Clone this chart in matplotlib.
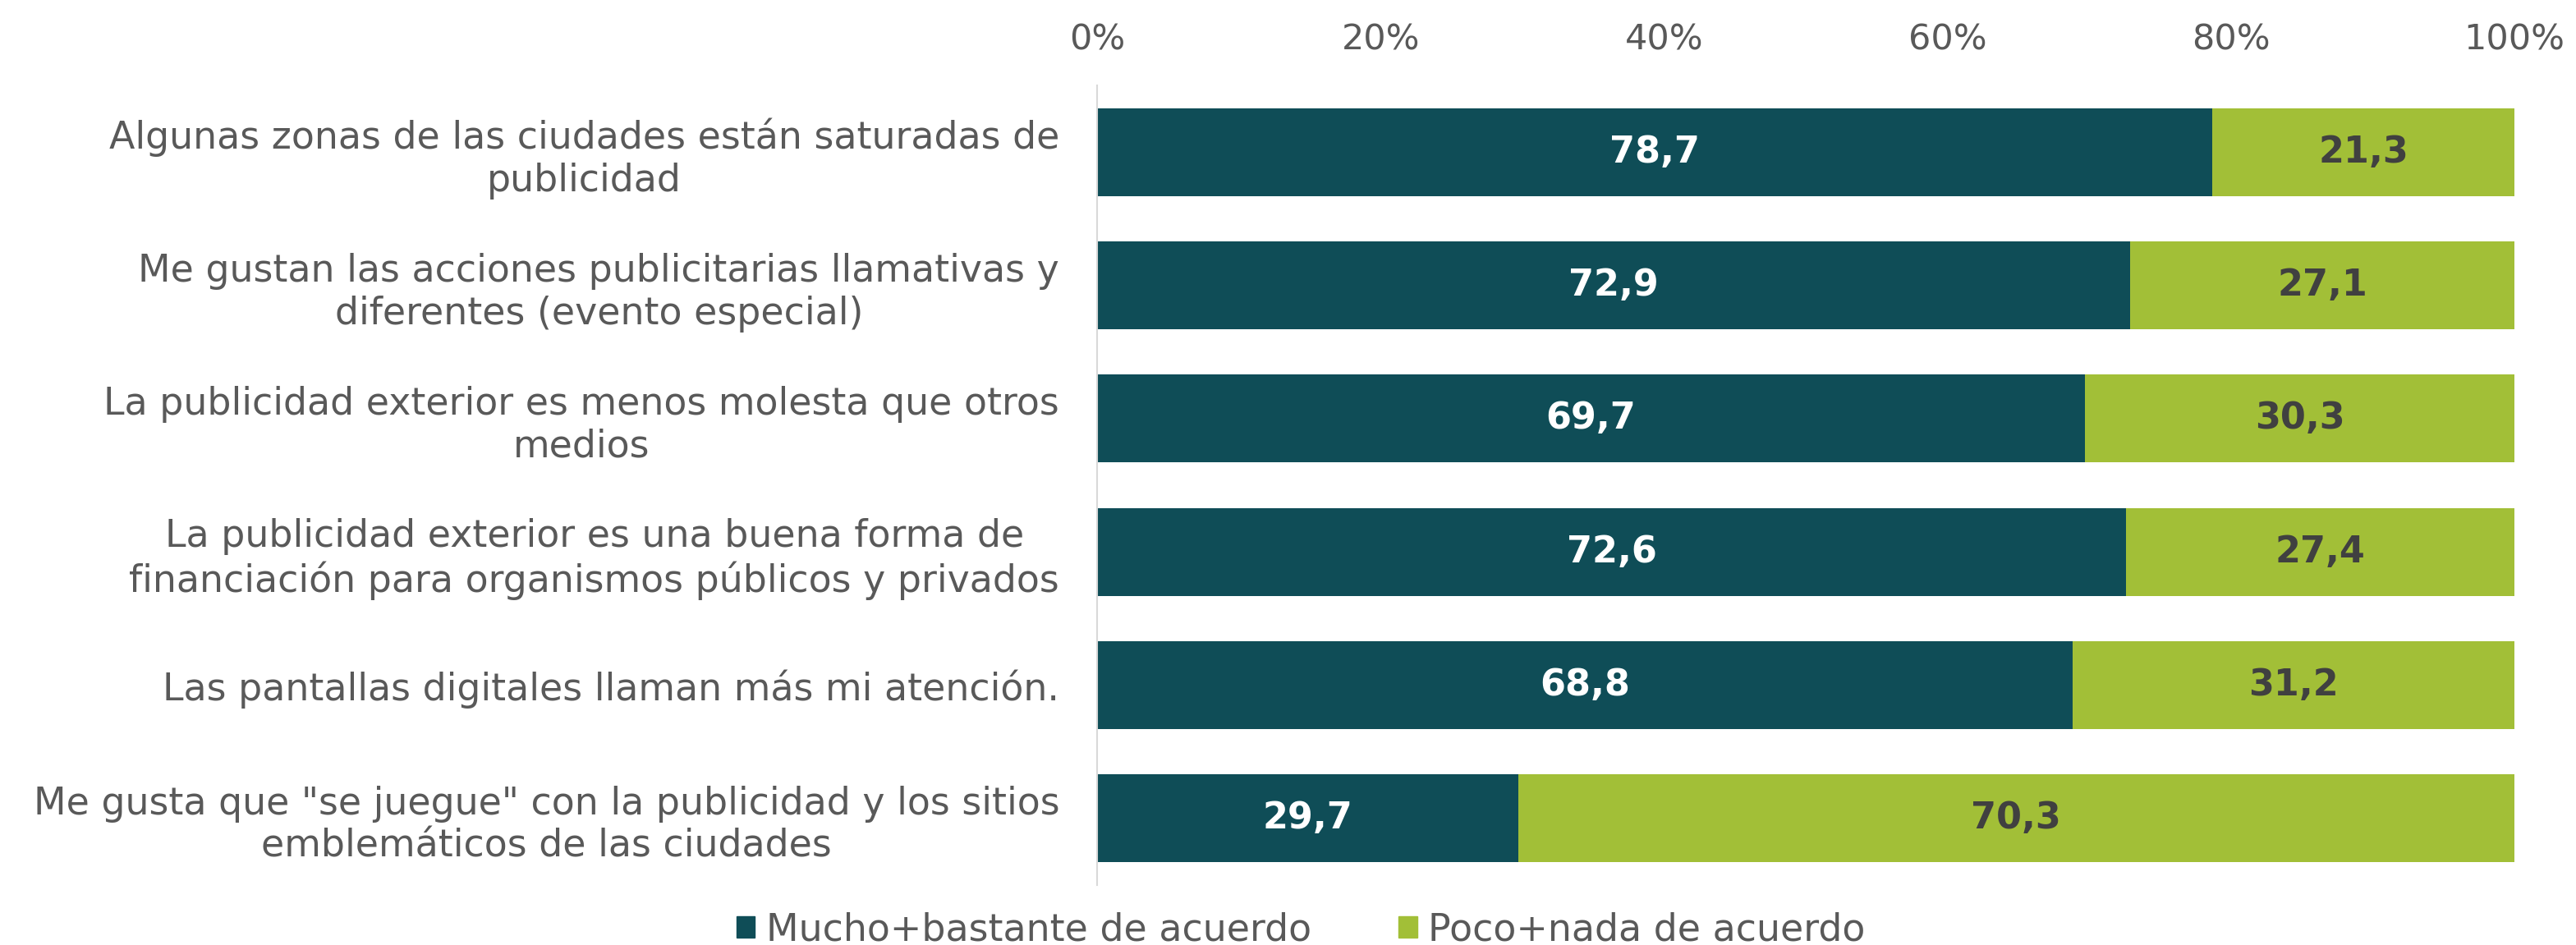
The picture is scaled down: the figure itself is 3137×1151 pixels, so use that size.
import matplotlib
matplotlib.use("Agg")
import matplotlib.pyplot as plt
import numpy as np
from matplotlib.patches import Patch

# datos de la encuesta (porcentaje)
afirmaciones = [
    "Algunas zonas de las ciudades están saturadas de\npublicidad",
    "Me gustan las acciones publicitarias llamativas y\ndiferentes (evento especial)",
    "La publicidad exterior es menos molesta que otros\nmedios",
    "La publicidad exterior es una buena forma de\nfinanciación para organismos públicos y privados",
    "Las pantallas digitales llaman más mi atención.",
    "Me gusta que \"se juegue\" con la publicidad y los sitios\nemblemáticos de las ciudades",
]
de_acuerdo = [78.7, 72.9, 69.7, 72.6, 68.8, 29.7]
en_desacuerdo = [21.3, 27.1, 30.3, 27.4, 31.2, 70.3]
series = ["Mucho+bastante de acuerdo", "Poco+nada de acuerdo"]

verde_osc = "#0F4D57"
verde_cla = "#A2BF37"
gris = "#595959"

plt.rcParams["font.family"] = ["DejaVu Sans"]

fig = plt.figure(figsize=(31.37, 11.51), dpi=100)
ax = fig.add_axes([0.4259, 0.0634, 0.9761 - 0.4259, 0.9096 - 0.0634])

y = np.arange(len(afirmaciones))
h = 0.66
ax.barh(y, de_acuerdo, height=h, color=verde_osc)
ax.barh(y, en_desacuerdo, left=de_acuerdo, height=h, color=verde_cla)

# etiquetas de valor dentro de cada segmento
for i in range(len(y)):
    ax.text(de_acuerdo[i] / 2, y[i], f"{de_acuerdo[i]:.1f}".replace(".", ","),
            ha="center", va="center", color="white", fontsize=32, fontweight="bold")
    ax.text(de_acuerdo[i] + en_desacuerdo[i] / 2, y[i],
            f"{en_desacuerdo[i]:.1f}".replace(".", ","),
            ha="center", va="center", color="#404040", fontsize=32, fontweight="bold")

ax.set_xlim(0, 100)
ax.set_ylim(len(y) - 0.5, -0.5)
ax.set_xticks(np.arange(0, 101, 20))
ax.set_xticklabels([f"{v}%" for v in range(0, 101, 20)])
ax.xaxis.tick_top()
ax.tick_params(axis="x", length=0, pad=25, labelsize=31, labelcolor=gris)

ax.set_yticks(y)
ax.set_yticklabels(afirmaciones, multialignment="center")
ax.tick_params(axis="y", length=0, pad=33, labelsize=33, labelcolor=gris)

for s in ["top", "right", "bottom"]:
    ax.spines[s].set_visible(False)
ax.spines["left"].set_color("#D9D9D9")
ax.spines["left"].set_linewidth(1.5)

handles = [Patch(color=verde_osc), Patch(color=verde_cla)]
fig.legend(handles, series, loc="center", bbox_to_anchor=(0.505, 0.016),
           ncol=2, frameon=False, fontsize=33, labelcolor=gris,
           handlelength=0.5, handleheight=0.5, handletextpad=0.3, columnspacing=2.3)

fig.savefig("out.png", dpi=100, facecolor="white")
